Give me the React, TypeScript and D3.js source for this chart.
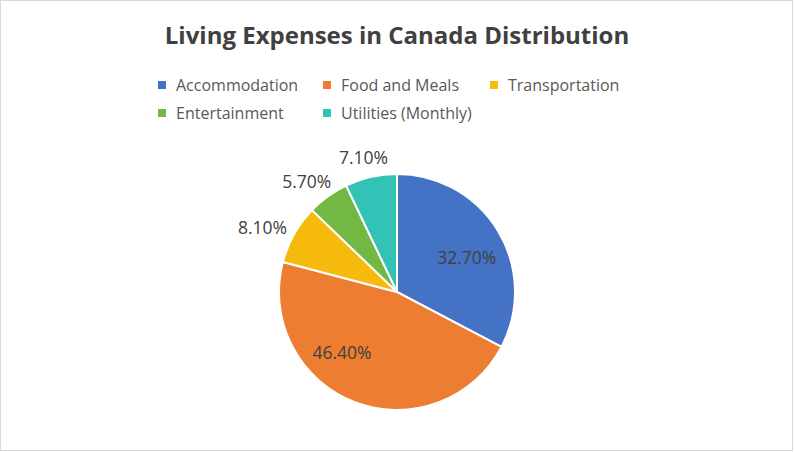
import React from "react";
import * as d3 from "d3";

const categories = ["Accommodation", "Food and Meals", "Transportation", "Entertainment", "Utilities (Monthly)"];
const values = [32.7, 46.4, 8.1, 5.7, 7.1];
const labels = ["32.70%", "46.40%", "8.10%", "5.70%", "7.10%"];
const colors = ["#4472C4", "#ED7D31", "#F5BA0C", "#72B843", "#33C3B6"];

const W = 794;
const H = 452;
const cx = 397;
const cy = 292;
const R = 118;
const FONT = "'Open Sans', 'Liberation Sans', sans-serif";
// layout nudges for Excel-style "best fit" labels (styling, not data)
const labelNudge: Record<number, [number, number]> = {
  0: [1, 7],
  1: [-26, -14],
  2: [-4, 9],
  3: [-5, 8],
  4: [-3, 1],
};

export default function App() {
  const pie = d3.pie<number>().sort(null).value((d) => d)(values);
  const arc = d3.arc<d3.PieArcDatum<number>>().innerRadius(0).outerRadius(R);

  const legendRows = [
    [0, 1, 2],
    [3, 4],
  ];
  const legendX = [158, 323, 490];
  const legendY = [85, 113];

  return (
    <svg
      width={W}
      height={H}
      style={{ position: "fixed", left: 0, top: 0, background: "#fff" }}
      fontFamily={FONT}
    >
      <rect x={0.5} y={0.5} width={W - 2} height={H - 2} fill="#fff" stroke="#D9D9D9" />
      <text x={397} y={44} textAnchor="middle" fontSize={24} fontWeight={700} fill="#404040">
        Living Expenses in Canada Distribution
      </text>
      {legendRows.map((row, ri) =>
        row.map((ci, k) => (
          <g key={ci} transform={`translate(${legendX[k]},${legendY[ri]})`}>
            <rect x={0} y={-4} width={8} height={8} fill={colors[ci]} />
            <text x={18} y={0} dy="0.35em" fontSize={16} fill="#595959">
              {categories[ci]}
            </text>
          </g>
        ))
      )}
      <g transform={`translate(${cx},${cy})`}>
        {pie.map((p, i) => (
          <path key={i} d={arc(p) || ""} fill={colors[i]} stroke="#fff" strokeWidth={2} />
        ))}
        {pie.map((p, i) => {
          const inside = p.data > 20;
          const mid = (p.startAngle + p.endAngle) / 2;
          const s = Math.sin(mid);
          const c = Math.cos(mid);
          const r = inside ? R * 0.68 : R + 5 + 25 * Math.abs(s) + 10 * Math.abs(c);
          const n = labelNudge[i] || [0, 0];
          const x = r * s + n[0];
          const y = -r * c + n[1];
          return (
            <text
              key={"l" + i}
              x={x}
              y={y}
              dy="0.35em"
              textAnchor="middle"
              fontSize={17.5}
              fill="#404040"
            >
              {labels[i]}
            </text>
          );
        })}
      </g>
    </svg>
  );
}
